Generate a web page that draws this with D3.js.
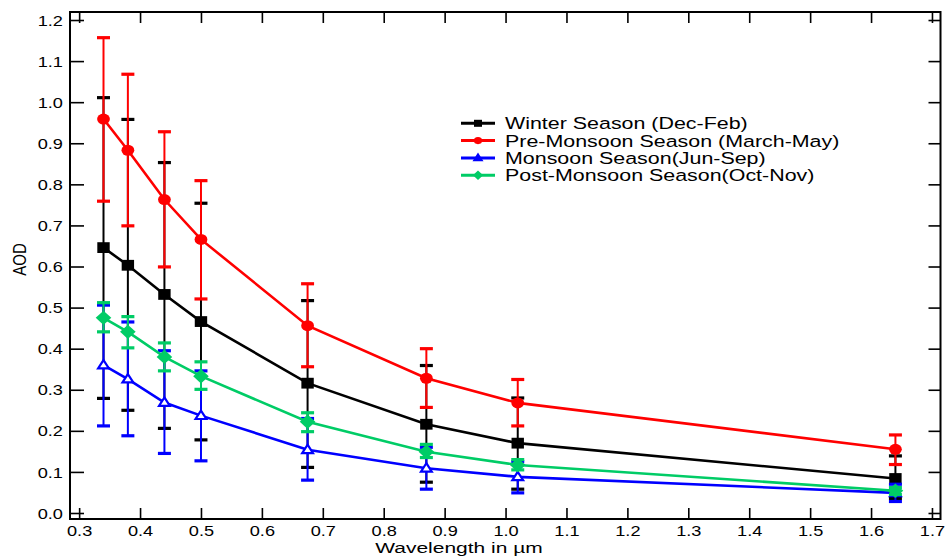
<!DOCTYPE html>
<html>
<head>
<meta charset="utf-8">
<script src="https://cdn.jsdelivr.net/npm/d3@7"></script>
<style>
  body { margin: 0; background: #fff; }
  text { font-family: "Liberation Sans", Arial, Helvetica, sans-serif; fill: #000; }
</style>
</head>
<body>
<div id="chart"></div>
<script>
/* AOD spectral dependence by season */
var wavelengths = [0.34, 0.38, 0.44, 0.50, 0.675, 0.87, 1.02, 1.64];

var winter   = [0.646, 0.603, 0.532, 0.466, 0.316, 0.216, 0.170, 0.084];
var winterLo = [0.279, 0.250, 0.206, 0.178, 0.111, 0.075, 0.058, 0.035];
var winterHi = [1.011, 0.958, 0.853, 0.754, 0.517, 0.359, 0.280, 0.139];

var pre   = [0.959, 0.883, 0.763, 0.666, 0.456, 0.328, 0.268, 0.155];
var preLo = [0.759, 0.699, 0.599, 0.521, 0.356, 0.257, 0.212, 0.118];
var preHi = [1.157, 1.068, 0.928, 0.809, 0.558, 0.400, 0.325, 0.190];

var monsoon   = [0.360, 0.326, 0.269, 0.237, 0.154, 0.109, 0.088, 0.049];
var monsoonLo = [0.212, 0.188, 0.145, 0.127, 0.080, 0.058, 0.049, 0.028];
var monsoonHi = [0.506, 0.465, 0.395, 0.346, 0.230, 0.160, 0.125, 0.070];

var post   = [0.475, 0.441, 0.380, 0.333, 0.222, 0.149, 0.117, 0.054];
var postLo = [0.441, 0.402, 0.346, 0.301, 0.198, 0.135, 0.105, 0.045];
var postHi = [0.512, 0.478, 0.414, 0.368, 0.244, 0.167, 0.130, 0.062];

var seriesNames = ["Winter Season (Dec-Feb)", "Pre-Monsoon Season (March-May)",
                   "Monsoon Season(Jun-Sep)", "Post-Monsoon Season(Oct-Nov)"];
var xTicks = [0.3, 0.4, 0.5, 0.6, 0.7, 0.8, 0.9, 1.0, 1.1, 1.2, 1.3, 1.4, 1.5, 1.6, 1.7];
var yTicks = [0.0, 0.1, 0.2, 0.3, 0.4, 0.5, 0.6, 0.7, 0.8, 0.9, 1.0, 1.1, 1.2];

var series = [
  {name: seriesNames[0], val: winter,  lo: winterLo,  hi: winterHi,  color: "#000000", shape: "square"},
  {name: seriesNames[1], val: pre,     lo: preLo,     hi: preHi,     color: "#ff0000", shape: "circle"},
  {name: seriesNames[2], val: monsoon, lo: monsoonLo, hi: monsoonHi, color: "#0000ff", shape: "triangle"},
  {name: seriesNames[3], val: post,    lo: postLo,    hi: postHi,    color: "#00cc66", shape: "diamond"}
];

var W = 946, H = 556;
var plotL = 70, plotR = 940.5, plotT = 12, plotB = 519;
var sx = 1.28; // picture is stretched horizontally

var svg = d3.select("#chart").append("svg")
  .attr("width", W).attr("height", H);

var x = d3.scaleLinear().domain([0.285, 1.714]).range([plotL, plotR]);
var y = d3.scaleLinear().domain([-0.0146, 1.2195]).range([plotB, plotT]);

// axes with inward ticks
var xAxis = svg.append("g")
  .attr("transform", "translate(0," + plotB + ")")
  .call(d3.axisBottom(x).tickValues(xTicks).tickSize(-11).tickSizeOuter(0).tickPadding(6.5)
    .tickFormat(d3.format(".1f")));
var yAxis = svg.append("g")
  .attr("transform", "translate(" + plotL + ",0)")
  .call(d3.axisLeft(y).tickValues(yTicks).tickSize(-14).tickSizeOuter(0).tickPadding(5.5)
    .tickFormat(d3.format(".1f")));
svg.append("g")
  .attr("transform", "translate(0," + plotT + ")")
  .call(d3.axisTop(x).tickValues(xTicks).tickSize(-11).tickSizeOuter(0).tickFormat(""));
svg.append("g")
  .attr("transform", "translate(" + plotR + ",0)")
  .call(d3.axisRight(y).tickValues(yTicks).tickSize(-12).tickSizeOuter(0).tickFormat(""));

svg.selectAll(".domain").remove();
svg.selectAll(".tick line").attr("stroke", "#000").attr("stroke-width", 1.6);
svg.selectAll(".tick text").attr("font-size", 14.2)
  .attr("font-family", "'Liberation Sans', Arial, sans-serif")
  .attr("fill", "#000")
  .attr("transform", "scale(" + sx + ",1)");
yAxis.selectAll(".tick text").attr("dy", "0.36em");

svg.append("rect")
  .attr("x", plotL).attr("y", plotT)
  .attr("width", plotR - plotL).attr("height", plotB - plotT)
  .attr("fill", "none").attr("stroke", "#000").attr("stroke-width", 2);

// axis titles
svg.append("text")
  .attr("transform", "translate(459,552.8) scale(1.4,1)")
  .attr("text-anchor", "middle")
  .attr("font-size", 15)
  .text("Wavelength in µm");
svg.append("text")
  .attr("transform", "translate(26,259.5) scale(" + sx + ",1) rotate(-90)")
  .attr("text-anchor", "middle")
  .attr("font-size", 15)
  .text("AOD");

// marker paths, w = half width, h = half height
function markerPath(shape, w, h) {
  var p = d3.path();
  if (shape === "square") {
    p.rect(-w, -h, 2 * w, 2 * h);
  } else if (shape === "circle") {
    return d3.symbol().type(d3.symbolCircle).size(Math.PI * h * h)();
  } else if (shape === "triangle") {
    p.moveTo(0, -h * 1.2); p.lineTo(w, h * 0.8); p.lineTo(-w, h * 0.8); p.closePath();
  } else {
    p.moveTo(0, -h); p.lineTo(w, 0); p.lineTo(0, h); p.lineTo(-w, 0); p.closePath();
  }
  return p.toString();
}

function marker(g, shape, color, w, h) {
  var m = g.append("path").attr("d", markerPath(shape, w, h));
  if (shape === "circle") m.attr("transform", "scale(" + (w / h) + ",1)");
  if (shape === "triangle") {
    m.attr("fill", "#fff").attr("stroke", color).attr("stroke-width", 2.2);
  } else {
    m.attr("fill", color);
  }
  return m;
}

var markerSize = {square: [6.2, 5.4], circle: [6.4, 5.5], triangle: [5.4, 4.2], diamond: [7.8, 7.2]};

var line = d3.line()
  .x(function(d) { return x(d[0]); })
  .y(function(d) { return y(d[1]); });

series.forEach(function(s) {
  var g = svg.append("g");
  var pts = wavelengths.map(function(w, i) { return {w: w, v: s.val[i], lo: s.lo[i], hi: s.hi[i]}; });

  // error bars
  g.selectAll(".err").data(pts).enter().append("line")
    .attr("x1", function(d) { return x(d.w); })
    .attr("x2", function(d) { return x(d.w); })
    .attr("y1", function(d) { return y(d.lo); })
    .attr("y2", function(d) { return y(d.hi); })
    .attr("stroke", s.color).attr("stroke-width", 2);
  ["lo", "hi"].forEach(function(k) {
    g.selectAll(".cap" + k).data(pts).enter().append("line")
      .attr("x1", function(d) { return x(d.w) - 6.5; })
      .attr("x2", function(d) { return x(d.w) + 6.5; })
      .attr("y1", function(d) { return y(d[k]); })
      .attr("y2", function(d) { return y(d[k]); })
      .attr("stroke", s.color).attr("stroke-width", 3.2);
  });

  g.append("path")
    .datum(wavelengths.map(function(w, i) { return [w, s.val[i]]; }))
    .attr("d", line)
    .attr("fill", "none").attr("stroke", s.color).attr("stroke-width", 2.6);

  var ms = markerSize[s.shape];
  pts.forEach(function(d) {
    var mg = g.append("g")
      .attr("transform", "translate(" + x(d.w) + "," + y(d.v) + ")");
    marker(mg, s.shape, s.color, ms[0], ms[1]);
  });
});

// legend
var legend = svg.append("g");
series.forEach(function(s, i) {
  var ly = 123.3 + i * 17.3;
  legend.append("line")
    .attr("x1", 461).attr("x2", 495).attr("y1", ly).attr("y2", ly)
    .attr("stroke", s.color).attr("stroke-width", 3);
  var mg = legend.append("g")
    .attr("transform", "translate(478," + ly + ")");
  var ms = markerSize[s.shape];
  var m = marker(mg, s.shape, s.color, ms[0] * 0.65, ms[1] * 0.65);
  if (s.shape === "triangle") m.attr("fill", s.color);
  legend.append("text")
    .attr("transform", "translate(505," + ly + ") scale(1.26,1)")
    .attr("dy", "0.36em")
    .attr("font-size", 17)
    .text(s.name);
});
</script>
</body>
</html>
